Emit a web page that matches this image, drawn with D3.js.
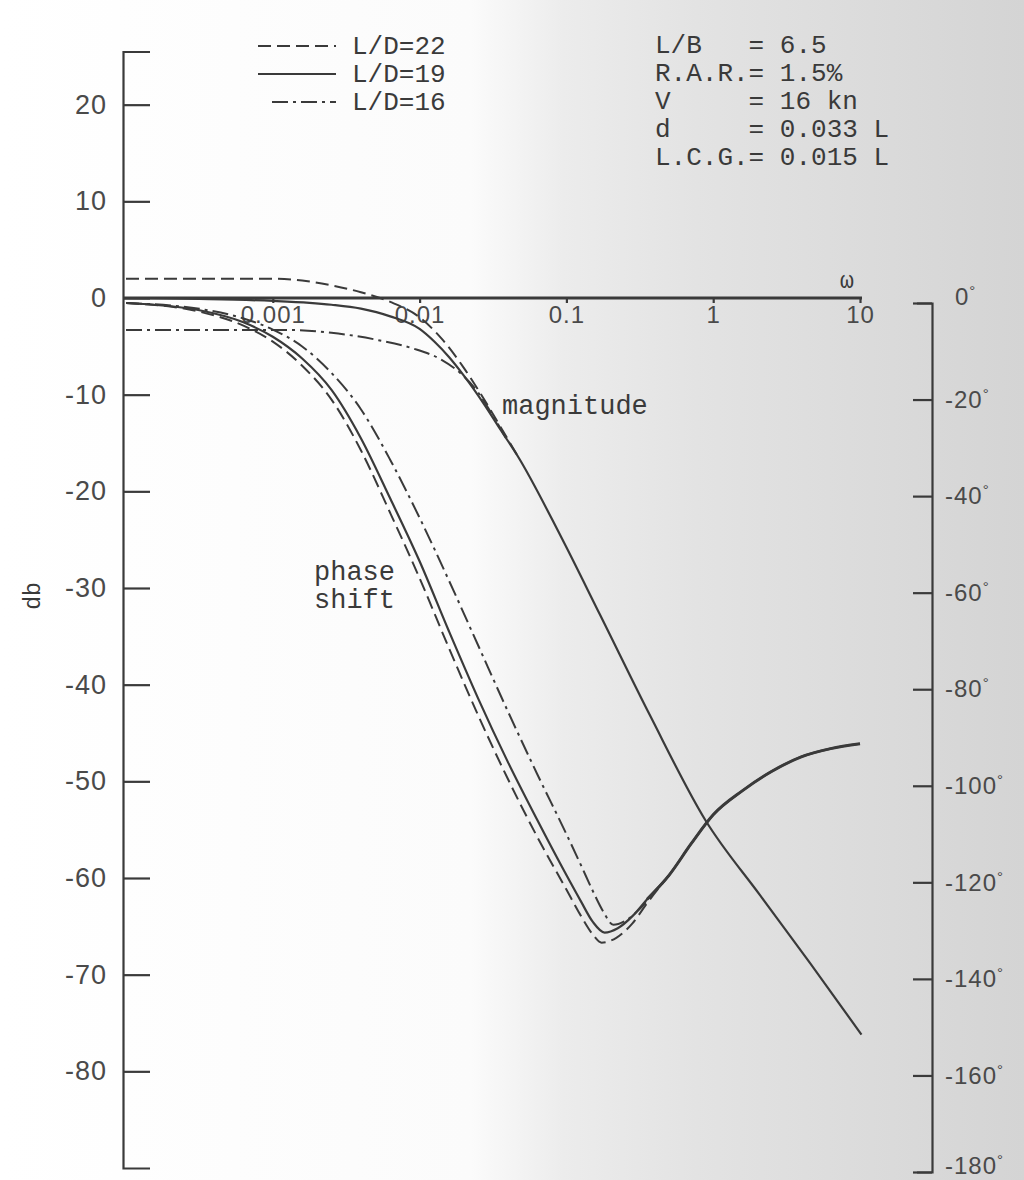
<!DOCTYPE html>
<html>
<head>
<meta charset="utf-8">
<script src="https://cdn.jsdelivr.net/npm/d3@7.9.0/dist/d3.min.js"></script>
<style>
  body { margin: 0; background: #fff; }
  .mono { font-family: "Liberation Mono", "DejaVu Sans Mono", monospace; fill: #3a3a3a; white-space: pre; }
  .axis text { font-family: "Liberation Sans", Arial, sans-serif; fill: #4a4a4a; }
</style>
</head>
<body>
<svg id="chart"></svg>
<script>
// axis ticks
const dbTicks = [20, 10, 0, -10, -20, -30, -40, -50, -60, -70, -80];
const degTicks = [0, -20, -40, -60, -80, -100, -120, -140, -160, -180];
const omegaTicks = [0.001, 0.01, 0.1, 1, 10];

const legendLabels = ["L/D=22", "L/D=19", "L/D=16"];
const paramLines = ["L/B   = 6.5", "R.A.R.= 1.5%", "V     = 16 kn", "d     = 0.033 L", "L.C.G.= 0.015 L"];

// magnitude, [log10(omega), db]
const magCommon = [[-1.33, -16.4], [-1.04, -24.6], [-0.77, -32.8], [-0.43, -43.2], [-0.054, -54.0],
  [0.32, -61.8], [0.66, -68.8], [1.01, -76.2]];
const mag19 = [[-4.0, 0], [-3.5, -0.1], [-3.0, -0.3], [-2.75, -0.5], [-2.6, -0.7], [-2.4, -1.1], [-2.2, -1.9],
  [-2.0, -3.2], [-1.9, -4.5], [-1.8, -6.1], [-1.7, -8.0], [-1.56, -11.0], [-1.45, -13.6]];
const mag22 = [[-4.0, 2.0], [-3.0, 2.0], [-2.8, 1.8], [-2.6, 1.3], [-2.4, 0.6], [-2.2, -0.4], [-2.0, -2.0],
  [-1.85, -4.2], [-1.7, -7.2], [-1.56, -10.5], [-1.45, -13.3], [-1.33, -16.4]];
const mag16 = [[-4.0, -3.3], [-2.93, -3.3], [-2.6, -3.6], [-2.3, -4.3], [-2.05, -5.2], [-1.85, -6.4],
  [-1.72, -7.8], [-1.6, -9.8], [-1.5, -12.2], [-1.4, -14.8]];

// phase shift, [log10(omega), degrees]
const phaseCommon = [[-0.45, -123.5], [-0.3, -118.5], [-0.15, -112], [0.0, -106], [0.2, -101], [0.4, -97],
  [0.6, -94], [0.8, -92.3], [1.0, -91.3]];
const phase19 = [[-4.0, 0], [-3.5, -1.5], [-3.2, -4], [-3.0, -7], [-2.8, -11.5], [-2.6, -18], [-2.4, -28],
  [-2.2, -40.5], [-2.0, -53.5], [-1.8, -68], [-1.6, -82], [-1.4, -95], [-1.2, -107], [-1.0, -118.5],
  [-0.9, -124], [-0.82, -128.2], [-0.74, -130.4], [-0.65, -129.5], [-0.55, -127]];
const phase22 = [[-4.0, 0], [-3.5, -1.8], [-3.2, -4.7], [-3.0, -8], [-2.8, -13], [-2.6, -20], [-2.4, -30.5],
  [-2.2, -43.5], [-2.0, -57], [-1.8, -71.5], [-1.6, -85.5], [-1.4, -98.5], [-1.2, -110.5], [-1.0, -121.5],
  [-0.9, -127], [-0.82, -130.8], [-0.76, -132.5], [-0.66, -131.5], [-0.55, -128.5], [-0.45, -124.3], [-0.3, -118.5]];
const phase16 = [[-4.0, 0], [-3.5, -1.2], [-3.2, -3.2], [-3.0, -5.5], [-2.8, -9], [-2.6, -14.5], [-2.4, -22],
  [-2.2, -32.5], [-2.0, -44.5], [-1.8, -57.5], [-1.6, -71], [-1.4, -84.5], [-1.2, -97.5], [-1.0, -110],
  [-0.9, -116.5], [-0.82, -121.8], [-0.75, -126], [-0.68, -128.8], [-0.6, -128], [-0.5, -125.5],
  [-0.4, -122], [-0.3, -118.5]];

const width = 1024, height = 1180;
const ink = "#3a3a3a";
const dashed = "13,6", dashDot = "16,5,3,5";

const svg = d3.select("#chart").attr("width", width).attr("height", height);

// paper shading, white on the left, greyer towards the right
const grad = svg.append("defs").append("linearGradient").attr("id", "paper");
[[0, "#ffffff"], [0.46, "#fbfbfb"], [0.55, "#ececec"], [0.68, "#e3e3e3"], [1, "#d4d4d4"]]
  .forEach(s => grad.append("stop").attr("offset", s[0]).attr("stop-color", s[1]));
svg.append("rect").attr("width", width).attr("height", height).attr("fill", "url(#paper)");

const x = d3.scaleLog().domain([1e-4, 10]).range([126, 860]);
const yDb = d3.scaleLinear().domain([-90, 25.5]).range([1168, 51.5]);
const yDeg = d3.scaleLinear().domain([-180, 0]).range([1172, 303]);

// left db axis, ticks point inwards
const leftAxis = svg.append("g").attr("class", "axis")
  .attr("transform", "translate(123,0)")
  .call(d3.axisLeft(yDb).tickValues(dbTicks).tickFormat(d => String(d))
    .tickSizeInner(-27).tickSizeOuter(-27).tickPadding(16));
leftAxis.selectAll("text").attr("font-size", 27).attr("letter-spacing", 1);

// right degree axis
const rightAxis = svg.append("g").attr("class", "axis")
  .attr("transform", "translate(932,0)")
  .call(d3.axisRight(yDeg).tickValues(degTicks).tickFormat(d => String(d))
    .tickSizeInner(-19).tickSizeOuter(-15).tickPadding(13));
rightAxis.selectAll(".tick text").attr("font-size", 24).attr("letter-spacing", 1)
  .each(function (d) {
    const t = d3.select(this);
    if (d === 0) t.attr("dx", 10).attr("dy", "0.05em");
    if (d === -180) t.attr("dy", "0.08em");
    t.append("tspan").attr("dy", "-0.6em").attr("font-size", 15).text("°");
  });

// omega axis along the 0 db line
svg.append("line")
  .attr("x1", 123).attr("x2", x(10) + 2)
  .attr("y1", yDb(0)).attr("y2", yDb(0))
  .attr("stroke", ink).attr("stroke-width", 3);
const bottomAxis = svg.append("g").attr("class", "axis")
  .attr("transform", `translate(0,${yDb(0)})`)
  .call(d3.axisBottom(x).tickValues(omegaTicks).tickFormat(d => String(d))
    .tickSizeInner(5).tickSizeOuter(0).tickPadding(3));
bottomAxis.select(".domain").remove();
bottomAxis.selectAll("text").attr("font-size", 24).attr("letter-spacing", 1);

svg.selectAll(".axis .domain, .axis line").attr("stroke", ink).attr("stroke-width", 2.2);

svg.append("text").attr("class", "mono")
  .attr("x", 847).attr("y", 288).attr("text-anchor", "middle")
  .attr("font-size", 23).text("ω");

svg.append("text").attr("class", "mono")
  .attr("transform", "translate(40,596) rotate(-90)")
  .attr("text-anchor", "middle").attr("font-size", 23).text("db");

// curves
const magLine = d3.line().x(d => x(Math.pow(10, d[0]))).y(d => yDb(d[1])).curve(d3.curveMonotoneX);
const phaseLine = d3.line().x(d => x(Math.pow(10, d[0]))).y(d => yDeg(d[1])).curve(d3.curveMonotoneX);

const curves = [
  { data: mag22, gen: magLine, dash: dashed, w: 2 },
  { data: mag16, gen: magLine, dash: dashDot, w: 2 },
  { data: mag19.concat(magCommon), gen: magLine, dash: null, w: 2.2 },
  { data: phase22, gen: phaseLine, dash: dashed, w: 2 },
  { data: phase16, gen: phaseLine, dash: dashDot, w: 2 },
  { data: phase19.concat(phaseCommon), gen: phaseLine, dash: null, w: 2.2 },
  { data: phaseCommon, gen: phaseLine, dash: null, w: 3 }
];
svg.selectAll("path.curve").data(curves).enter()
  .append("path").attr("class", "curve")
  .attr("d", d => d.gen(d.data))
  .attr("fill", "none")
  .attr("stroke", ink)
  .attr("stroke-width", d => d.w)
  .attr("stroke-dasharray", d => d.dash);

// curve labels
svg.append("text").attr("class", "mono").attr("x", 502).attr("y", 414)
  .attr("font-size", 27).text("magnitude");
svg.append("text").attr("class", "mono").attr("x", 314).attr("y", 580)
  .attr("font-size", 27).text("phase");
svg.append("text").attr("class", "mono").attr("x", 314).attr("y", 608)
  .attr("font-size", 27).text("shift");

// legend
const rowGap = 28;
const legendDash = [dashed, null, dashDot];
const legend = svg.append("g");
legend.selectAll("line").data(legendLabels).enter().append("line")
  .attr("x1", (d, i) => i === 2 ? 272 : 258).attr("x2", 336)
  .attr("y1", (d, i) => 54 + i * rowGap - 8).attr("y2", (d, i) => 54 + i * rowGap - 8)
  .attr("stroke", ink).attr("stroke-width", 2.2)
  .attr("stroke-dasharray", (d, i) => legendDash[i]);
legend.selectAll("text").data(legendLabels).enter().append("text")
  .attr("class", "mono").attr("x", 352).attr("y", (d, i) => 54 + i * rowGap)
  .attr("font-size", 26).text(d => d);

// ship parameters
svg.append("g").selectAll("text").data(paramLines).enter().append("text")
  .attr("class", "mono").attr("x", 655).attr("y", (d, i) => 53 + i * rowGap)
  .attr("font-size", 26).text(d => d);
</script>
</body>
</html>
